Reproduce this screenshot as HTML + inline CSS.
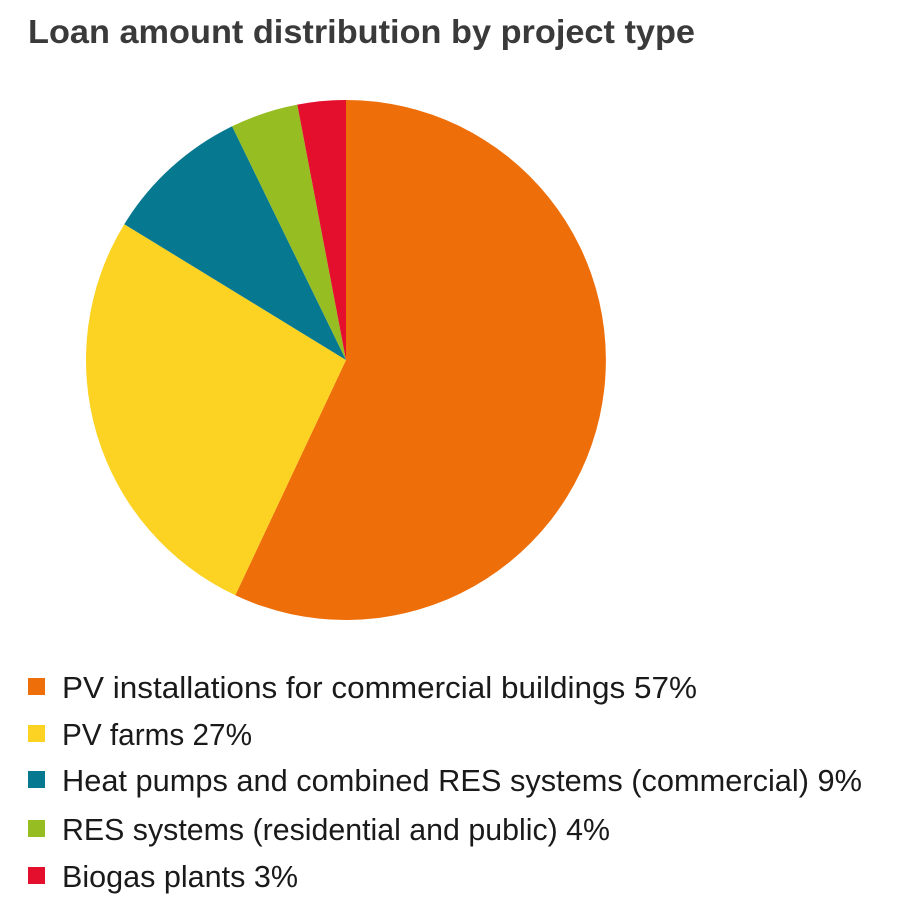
<!DOCTYPE html>
<html><head><meta charset="utf-8"><style>
html,body{margin:0;padding:0;background:#fff;}
svg{display:block;}
text{font-family:"Liberation Sans",sans-serif;}
</style></head><body>
<svg width="911" height="918" viewBox="0 0 911 918" xmlns="http://www.w3.org/2000/svg">
<text x="28" y="43" font-size="33" font-weight="bold" fill="#3a3a3a" textLength="667" lengthAdjust="spacingAndGlyphs">Loan amount distribution by project type</text>
<g transform="translate(346,360)">
<path d="M0,0 L0,-260 A260,260 0 1,1 -110.7,235.3 Z" fill="#ee6e0a"/>
<path d="M0,0 L-110.7,235.3 A260,260 0 0,1 -221.7,-135.8 Z" fill="#fcd223"/>
<path d="M0,0 L-221.7,-135.8 A260,260 0 0,1 -113.9,-233.7 Z" fill="#067890"/>
<path d="M0,0 L-113.9,-233.7 A260,260 0 0,1 -48.7,-255.4 Z" fill="#96be22"/>
<path d="M0,0 L-48.7,-255.4 A260,260 0 0,1 0,-260 Z" fill="#e30f2d"/>
</g>
<g font-size="31" fill="#1a1a1a">
<rect x="28" y="678" width="17" height="17" fill="#ee6e0a"/>
<text x="62" y="698" textLength="635" lengthAdjust="spacingAndGlyphs">PV installations for commercial buildings 57%</text>
<rect x="28" y="725" width="17" height="17" fill="#fcd223"/>
<text x="62" y="745" textLength="190" lengthAdjust="spacingAndGlyphs">PV farms 27%</text>
<rect x="28" y="771" width="17" height="17" fill="#067890"/>
<text x="62" y="791" textLength="800" lengthAdjust="spacingAndGlyphs">Heat pumps and combined RES systems (commercial) 9%</text>
<rect x="28" y="820" width="17" height="17" fill="#96be22"/>
<text x="62" y="840" textLength="548" lengthAdjust="spacingAndGlyphs">RES systems (residential and public) 4%</text>
<rect x="28" y="867" width="17" height="17" fill="#e30f2d"/>
<text x="62" y="887" textLength="236" lengthAdjust="spacingAndGlyphs">Biogas plants 3%</text>
</g>
</svg>
</body></html>
